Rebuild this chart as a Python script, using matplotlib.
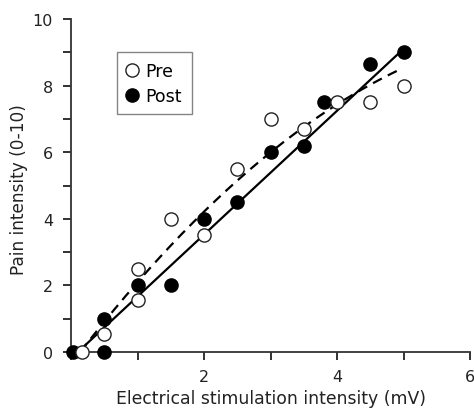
import numpy as np
import matplotlib
matplotlib.use('Agg')
from matplotlib import pyplot as plt

# Pain ratings against stimulation intensity, before and after treatment
pre_x = [0.16, 0.5, 1.0, 1.0, 1.5, 2.0, 2.5, 3.0, 3.5, 4.0, 4.5, 5.0]
pre_y = [0.0, 0.55, 2.5, 1.55, 4.0, 3.5, 5.5, 7.0, 6.7, 7.5, 7.5, 8.0]

post_x = [0.03, 0.5, 0.5, 1.0, 1.5, 2.0, 2.5, 3.0, 3.5, 3.8, 4.5, 5.0]
post_y = [0.0, 0.0, 1.0, 2.0, 2.0, 4.0, 4.5, 6.0, 6.2, 7.5, 8.65, 9.0]

# fitted curves: quadratic for pre (highest power first), straight line for post
pre_fit = [-0.17, 2.63, -0.36]
pre_fit_range = [0.14, 4.97]
post_fit = [1.86, -0.19]
post_fit_range = [0.1, 4.95]

xticks = [0, 1, 2, 3, 4, 5, 6]
xticklabels = ['', '', '2', '', '4', '', '6']
yticks = [0, 1, 2, 3, 4, 5, 6, 7, 8, 9, 10]
yticklabels = ['0', '', '2', '', '4', '', '6', '', '8', '', '10']

plt.rcParams['font.family'] = ['DejaVu Sans']

fig = plt.figure(figsize=(4.74, 4.10), dpi=100)
ax = fig.add_axes([0.150, 0.139, 0.842, 0.812])

xs = np.linspace(pre_fit_range[0], pre_fit_range[1], 200)
ax.plot(xs, np.polyval(pre_fit, xs), color='black', lw=1.6, ls=(0, (4.5, 3)), zorder=2)
xs = np.linspace(post_fit_range[0], post_fit_range[1], 2)
ax.plot(xs, np.polyval(post_fit, xs), color='black', lw=1.6, zorder=2)

ax.plot(post_x, post_y, 'o', ms=9.5, mfc='black', mec='black', mew=1.0,
        label='Post', clip_on=False, zorder=3)
ax.plot(pre_x, pre_y, 'o', ms=9.5, mfc='white', mec='#222222', mew=1.0,
        label='Pre', clip_on=False, zorder=4)

ax.set_xlim(0, 6)
ax.set_ylim(0, 10)
ax.set_xticks(xticks)
ax.set_xticklabels(xticklabels)
ax.set_yticks(yticks)
ax.set_yticklabels(yticklabels)
ax.tick_params(direction='out', length=6, width=1.3, labelsize=11.5, colors='#222222')
ax.tick_params(axis='x', pad=6.5)
ax.tick_params(axis='y', pad=7)

for side in ['top', 'right']:
    ax.spines[side].set_visible(False)
for side in ['left', 'bottom']:
    ax.spines[side].set_linewidth(1.3)
    ax.spines[side].set_color('#333333')

ax.set_xlabel('Electrical stimulation intensity (mV)', fontsize=12.4, color='#222222')
ax.set_ylabel('Pain intensity (0-10)', fontsize=12.2, color='#222222')
ax.xaxis.set_label_coords(0.5, -0.112)
ax.yaxis.set_label_coords(-0.109, 0.49)

handles, labels = ax.get_legend_handles_labels()
leg = ax.legend(handles[::-1], labels[::-1], loc='upper left',
                bbox_to_anchor=(0.115, 0.90), fontsize=12.5, frameon=True,
                fancybox=False, edgecolor='#666666', handletextpad=0.5,
                handlelength=0.6, borderpad=0.55, labelspacing=0.4,
                borderaxespad=0)
leg.get_frame().set_linewidth(1.0)

fig.savefig('out.png', dpi=100)
